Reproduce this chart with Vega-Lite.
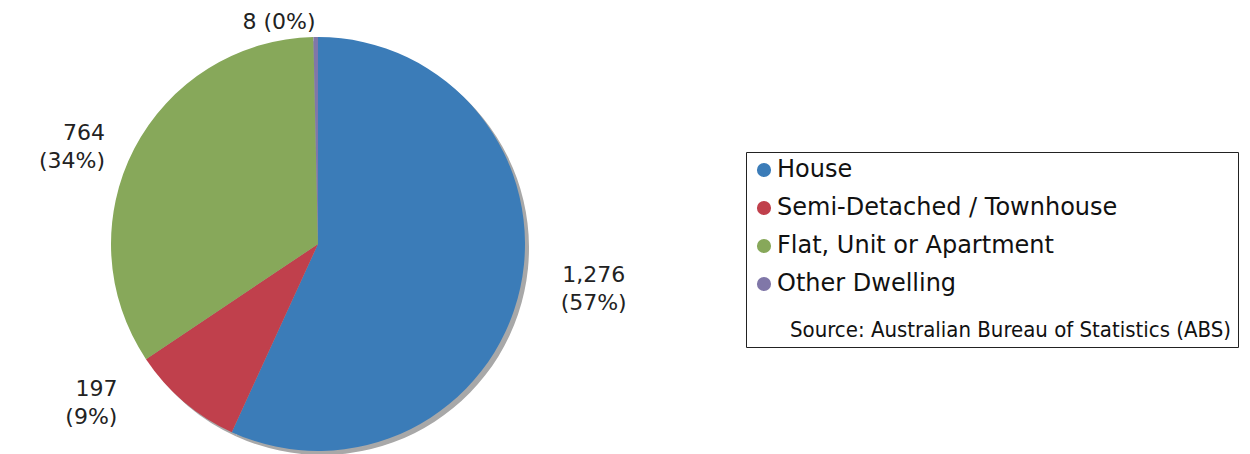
{
  "$schema": "https://vega.github.io/schema/vega-lite/v6.json",
  "autosize": {"type": "none"},
  "width": 636,
  "height": 420,
  "padding": {"left": 0, "top": 34, "right": 614, "bottom": 0},
  "background": "white",
  "config": {"view": {"stroke": null}, "font": "DejaVu Sans"},
  "data": {"values": [
    {"type": "House", "count": 1276, "label": "1,276\n(57%)"},
    {"type": "Semi-Detached / Townhouse", "count": 197, "label": "197\n(9%)"},
    {"type": "Flat, Unit or Apartment", "count": 764, "label": "764\n(34%)"},
    {"type": "Other Dwelling", "count": 8, "label": "8 (0%)"}
  ]},
  "encoding": {
    "theta": {"field": "count", "type": "quantitative", "stack": true},
    "order": {"field": "label", "type": "ordinal"}
  },
  "layer": [
    {"mark": {"type": "arc", "outerRadius": 207, "xOffset": 4, "yOffset": 4, "color": "#a8a8a8"}},
    {"mark": {"type": "arc", "outerRadius": 207},
     "encoding": {
      "color": {
        "field": "type", "type": "nominal",
        "scale": {"domain": ["House", "Semi-Detached / Townhouse", "Flat, Unit or Apartment", "Other Dwelling"],
                  "range": ["#3b7cb8", "#c0404c", "#87a85a", "#8077a8"]},
        "legend": {
          "orient": "none", "legendX": 746, "legendY": 118,
          "title": "Source: Australian Bureau of Statistics (ABS)",
          "titleOrient": "bottom", "titleAnchor": "start", "titleFontWeight": "normal",
          "titleFontSize": 22, "titleColor": "#111", "titleFont": "DejaVu Sans Condensed",
          "titlePadding": 24, "titleLimit": 800,
          "labelFontSize": 24, "labelColor": "#111", "labelLimit": 800, "labelOffset": 1,
          "symbolType": "circle", "symbolSize": 200, "symbolStrokeWidth": 0, "symbolOpacity": 1,
          "rowPadding": 14, "padding": 6,
          "strokeColor": "#222", "fillColor": "white",
          "encode": {"title": {"update": {"dx": {"value": 38}}}}
        }
      }
     }},
    {"mark": {"type": "text", "radius": 279, "thetaOffset": -0.06, "fontSize": 22, "lineHeight": 28, "lineBreak": "\n", "fill": "#222", "align": "center", "baseline": "bottom"},
     "encoding": {"text": {"condition": {"test": "datum.type === 'House'", "field": "label"}, "value": ""}}},
    {"mark": {"type": "text", "radius": 240, "fontSize": 22, "lineHeight": 28, "lineBreak": "\n", "fill": "#222", "align": "right", "baseline": "middle"},
     "encoding": {"text": {"condition": {"test": "datum.type === 'Flat, Unit or Apartment'", "field": "label"}, "value": ""}}},
    {"mark": {"type": "text", "radius": 255, "thetaOffset": 0.2, "fontSize": 22, "lineHeight": 28, "lineBreak": "\n", "fill": "#222", "align": "right", "baseline": "bottom"},
     "encoding": {"text": {"condition": {"test": "datum.type === 'Semi-Detached / Townhouse'", "field": "label"}, "value": ""}}},
    {"mark": {"type": "text", "radius": 222, "fontSize": 22, "lineHeight": 28, "lineBreak": "\n", "fill": "#222", "align": "right", "baseline": "middle"},
     "encoding": {"text": {"condition": {"test": "datum.type === 'Other Dwelling'", "field": "label"}, "value": ""}}}
  ]
}
